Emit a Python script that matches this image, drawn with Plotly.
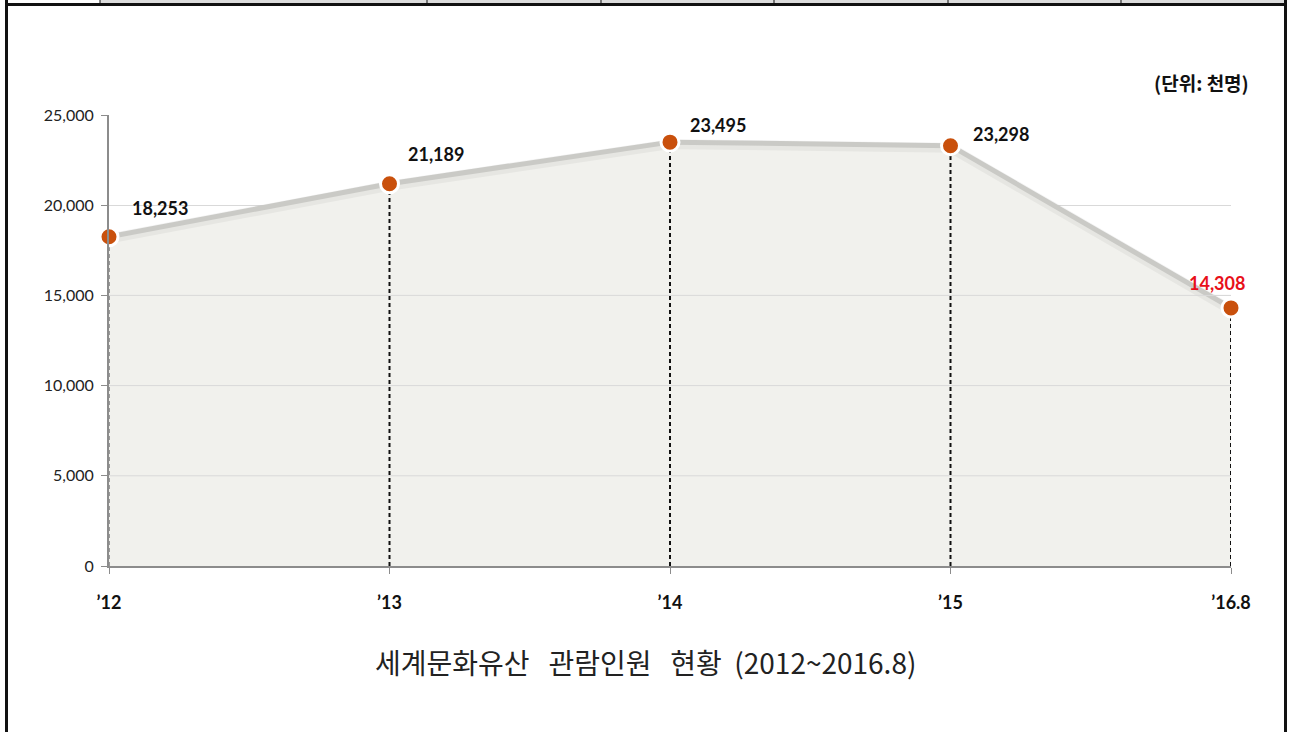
import plotly.graph_objects as go

# 세계문화유산 관람인원 (단위: 천명)
years = ["’12", "’13", "’14", "’15", "’16.8"]
visitors = [18253, 21189, 23495, 23298, 14308]
label_colors = ["#111111", "#111111", "#111111", "#111111", "#e8101a"]

y_ticks = [0, 5000, 10000, 15000, 20000, 25000]

W, H = 1290, 732


def px_x(px):
    return px / W


def px_y(py):
    return 1 - py / H


xs = list(range(len(years)))

fig = go.Figure()

# 면적 채우기
fig.add_trace(go.Scatter(
    x=xs, y=visitors, mode="lines", fill="tozeroy",
    fillcolor="#f1f1ed", line=dict(color="rgba(0,0,0,0)", width=0),
    hoverinfo="skip", cliponaxis=False,
))

# 선 그림자
fig.add_trace(go.Scatter(
    x=xs, y=[v - 110 for v in visitors], mode="lines",
    line=dict(color="rgba(0,0,0,0.045)", width=10),
    hoverinfo="skip", cliponaxis=False,
))

# 수직 점선 (드롭 라인)
drop_x, drop_y = [], []
for x, v in zip(xs[1:], visitors[1:]):
    drop_x += [x, x, None]
    drop_y += [0, v, None]
fig.add_trace(go.Scatter(
    x=drop_x, y=drop_y, mode="lines",
    line=dict(color="#111111", width=2, dash="4px,3px"),
    hoverinfo="skip", cliponaxis=False,
))
fig.add_trace(go.Scatter(
    x=[xs[0], xs[0]], y=[0, visitors[0]], mode="lines",
    line=dict(color="#9a9a9a", width=2, dash="4px,3px"),
    hoverinfo="skip", cliponaxis=False,
))

# 메인 선
fig.add_trace(go.Scatter(
    x=xs, y=visitors, mode="lines",
    line=dict(color="#cacac6", width=5),
    hoverinfo="skip", cliponaxis=False,
))

# 마커
fig.add_trace(go.Scatter(
    x=xs, y=visitors, mode="markers",
    marker=dict(size=18, color="#c9500c", line=dict(color="white", width=3)),
    hoverinfo="skip", cliponaxis=False,
))

# 데이터 레이블
label_offsets = [(51, 29), (46, 30), (48, 17), (50, 12), (-14, 25)]
for x, v, c, (dx, dy) in zip(xs, visitors, label_colors, label_offsets):
    fig.add_annotation(
        x=x, y=v, text=f"<b>{v:,}</b>", showarrow=False,
        xshift=dx, yshift=dy,
        font=dict(family="Lato, 'Open Sans', sans-serif", size=18, color=c),
    )

# 단위 표기
fig.add_annotation(
    x=px_x(1251), y=px_y(83), xref="paper", yref="paper",
    xanchor="right", yanchor="middle", showarrow=False,
    text="<b>(단위: 천명)</b>",
    font=dict(family="Noto Sans CJK KR", size=19, color="#111111"),
)

# 캡션
fig.add_annotation(
    x=px_x(645), y=px_y(662), xref="paper", yref="paper",
    xanchor="center", yanchor="middle", showarrow=False,
    text="세계문화유산&nbsp;&nbsp; 관람인원&nbsp;&nbsp; 현황&nbsp; (2012~2016.8)",
    font=dict(family="Noto Sans CJK KR", size=28, color="#222222"),
)

# 테두리 (표 틀)
shapes = [
    dict(type="rect", x0=px_x(100), x1=px_x(1286), y0=px_y(0), y1=px_y(3),
         fillcolor="#dcdcdc", line=dict(width=0)),
    dict(type="rect", x0=px_x(5), x1=px_x(1287), y0=px_y(3), y1=px_y(6),
         fillcolor="#111111", line=dict(width=0)),
    dict(type="rect", x0=px_x(5), x1=px_x(8), y0=px_y(0), y1=px_y(732),
         fillcolor="#111111", line=dict(width=0)),
    dict(type="rect", x0=px_x(1284), x1=px_x(1287), y0=px_y(0), y1=px_y(732),
         fillcolor="#111111", line=dict(width=0)),
]
for sx in [100, 427, 601, 774, 948, 1121]:
    shapes.append(dict(type="line", x0=px_x(sx), x1=px_x(sx), y0=px_y(0), y1=px_y(4),
                       line=dict(color="#111111", width=1)))
for s in shapes:
    s.update(xref="paper", yref="paper", layer="above")

# 면적 안쪽에도 보이는 눈금선
for t in y_ticks[1:4]:
    shapes.append(dict(type="line", xref="x domain", yref="y", x0=0, x1=1, y0=t, y1=t,
                       line=dict(color="#d9d9d9", width=1), layer="above"))

fig.update_layout(
    width=W, height=H,
    margin=dict(l=0, r=0, t=0, b=0),
    paper_bgcolor="white",
    plot_bgcolor="white",
    showlegend=False,
    hovermode=False,
    shapes=shapes,
    xaxis=dict(
        domain=[px_x(109), px_x(1231)],
        range=[0, len(years) - 1],
        automargin=False,
        tickvals=xs, ticktext=[f"<b>{y}</b>" for y in years],
        tickfont=dict(family="Lato, 'Open Sans', sans-serif", size=18, color="#111111"),
        showgrid=False, zeroline=False,
        showline=True, linecolor="#8c8c8c", linewidth=2,
        ticks="outside", ticklen=6, tickcolor="#8c8c8c", tickwidth=1,
        ticklabelstandoff=13,
    ),
    yaxis=dict(
        domain=[px_y(566), px_y(115)],
        range=[0, 25000],
        automargin=False,
        tickvals=y_ticks, tickformat=",",
        tickfont=dict(family="Lato, 'Open Sans', sans-serif", size=16, color="#222222"),
        showgrid=True, gridcolor="#d9d9d9", gridwidth=1,
        zeroline=False,
        showline=True, linecolor="#8c8c8c", linewidth=2,
        ticks="outside", ticklen=6, tickcolor="#8c8c8c", tickwidth=1,
        ticklabelstandoff=4,
    ),
)

# 페이지 기본 여백 제거
fig.write_html(
    "out.html",
    config={"displayModeBar": False},
    post_script="document.body.style.margin='0';document.body.style.overflow='hidden';",
)
